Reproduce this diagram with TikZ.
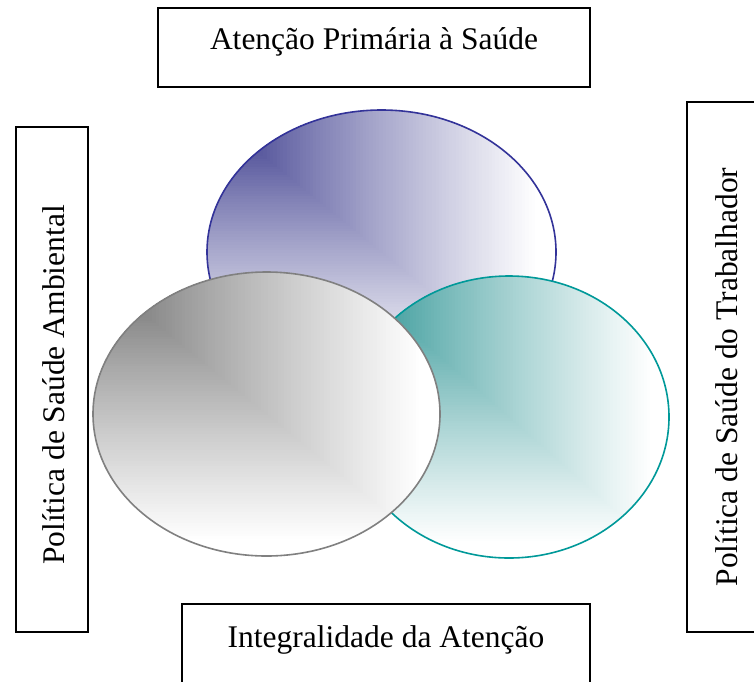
\documentclass[tikz,border=0pt]{standalone}
\usepackage{fontspec}
\setmainfont{Liberation Serif}
\definecolor{eblue}{HTML}{333399}
\definecolor{eteal}{HTML}{009999}
\definecolor{egray}{HTML}{808080}
\definecolor{fblue}{HTML}{262680}
\definecolor{fteal}{HTML}{1A8A8A}
\definecolor{fgray}{HTML}{646464}
% corner gradient ellipse: cx, cy, rx, ry, fill colour, line colour
\newcommand\myEll[6]{%
  \pgfmathsetmacro\xa{#1-#3}\pgfmathsetmacro\ya{#2-#4}%
  \pgfmathsetmacro\sx{0.95*2*#3/100}\pgfmathsetmacro\sy{0.95*2*#4/100}%
  \begin{scope}
    \clip (#1,#2) ellipse [x radius=#3pt, y radius=#4pt];
    \fill[white] (#1,#2) ellipse [x radius=#3pt, y radius=#4pt];
    \foreach \k in {100,99,...,1}{%
      \pgfmathsetmacro\p{100*(1-(\k/100)^0.8)}%
      \fill[#5!\p!white] (\xa,\ya) rectangle ++(\k*\sx,\k*\sy);
    }
  \end{scope}
  \draw[#6, line width=1.6pt] (#1,#2) ellipse [x radius=#3pt, y radius=#4pt];
}
\begin{document}
\begin{tikzpicture}[x=1pt,y=-1pt,
  box/.style={draw=black,line width=1.5pt},
  lbl/.style={font=\fontsize{31.5}{37}\selectfont, inner sep=0pt}]
\clip (0,0) rectangle (754,681);
\fill[white] (0,0) rectangle (754,681);
% ellipses
\myEll{381.5}{252}{174.5}{142}{fblue}{eblue}
\myEll{509}{417}{160}{141}{fteal}{eteal}
\myEll{266.5}{414}{173.5}{142}{fgray}{egray}
% boxes
\draw[box] (158,8) rectangle (590,87);
\draw[box] (16,127) rectangle (88,632);
\draw[box] (687,102) rectangle (770,632);
\draw[box] (182,604) rectangle (590,700);
% labels
\node[lbl, anchor=base] (tap) at (374,49) {Atenção Primária à Saúde};
\node[lbl, anchor=base] (tia) at (386,647) {Integralidade da Atenção};
\node[lbl, anchor=base, rotate=90] (tpa) at (64,385) {Política de Saúde Ambiental};
\node[lbl, anchor=base, rotate=90] (tpt) at (737,377) {Política de Saúde do Trabalhador};
\end{tikzpicture}
\end{document}
